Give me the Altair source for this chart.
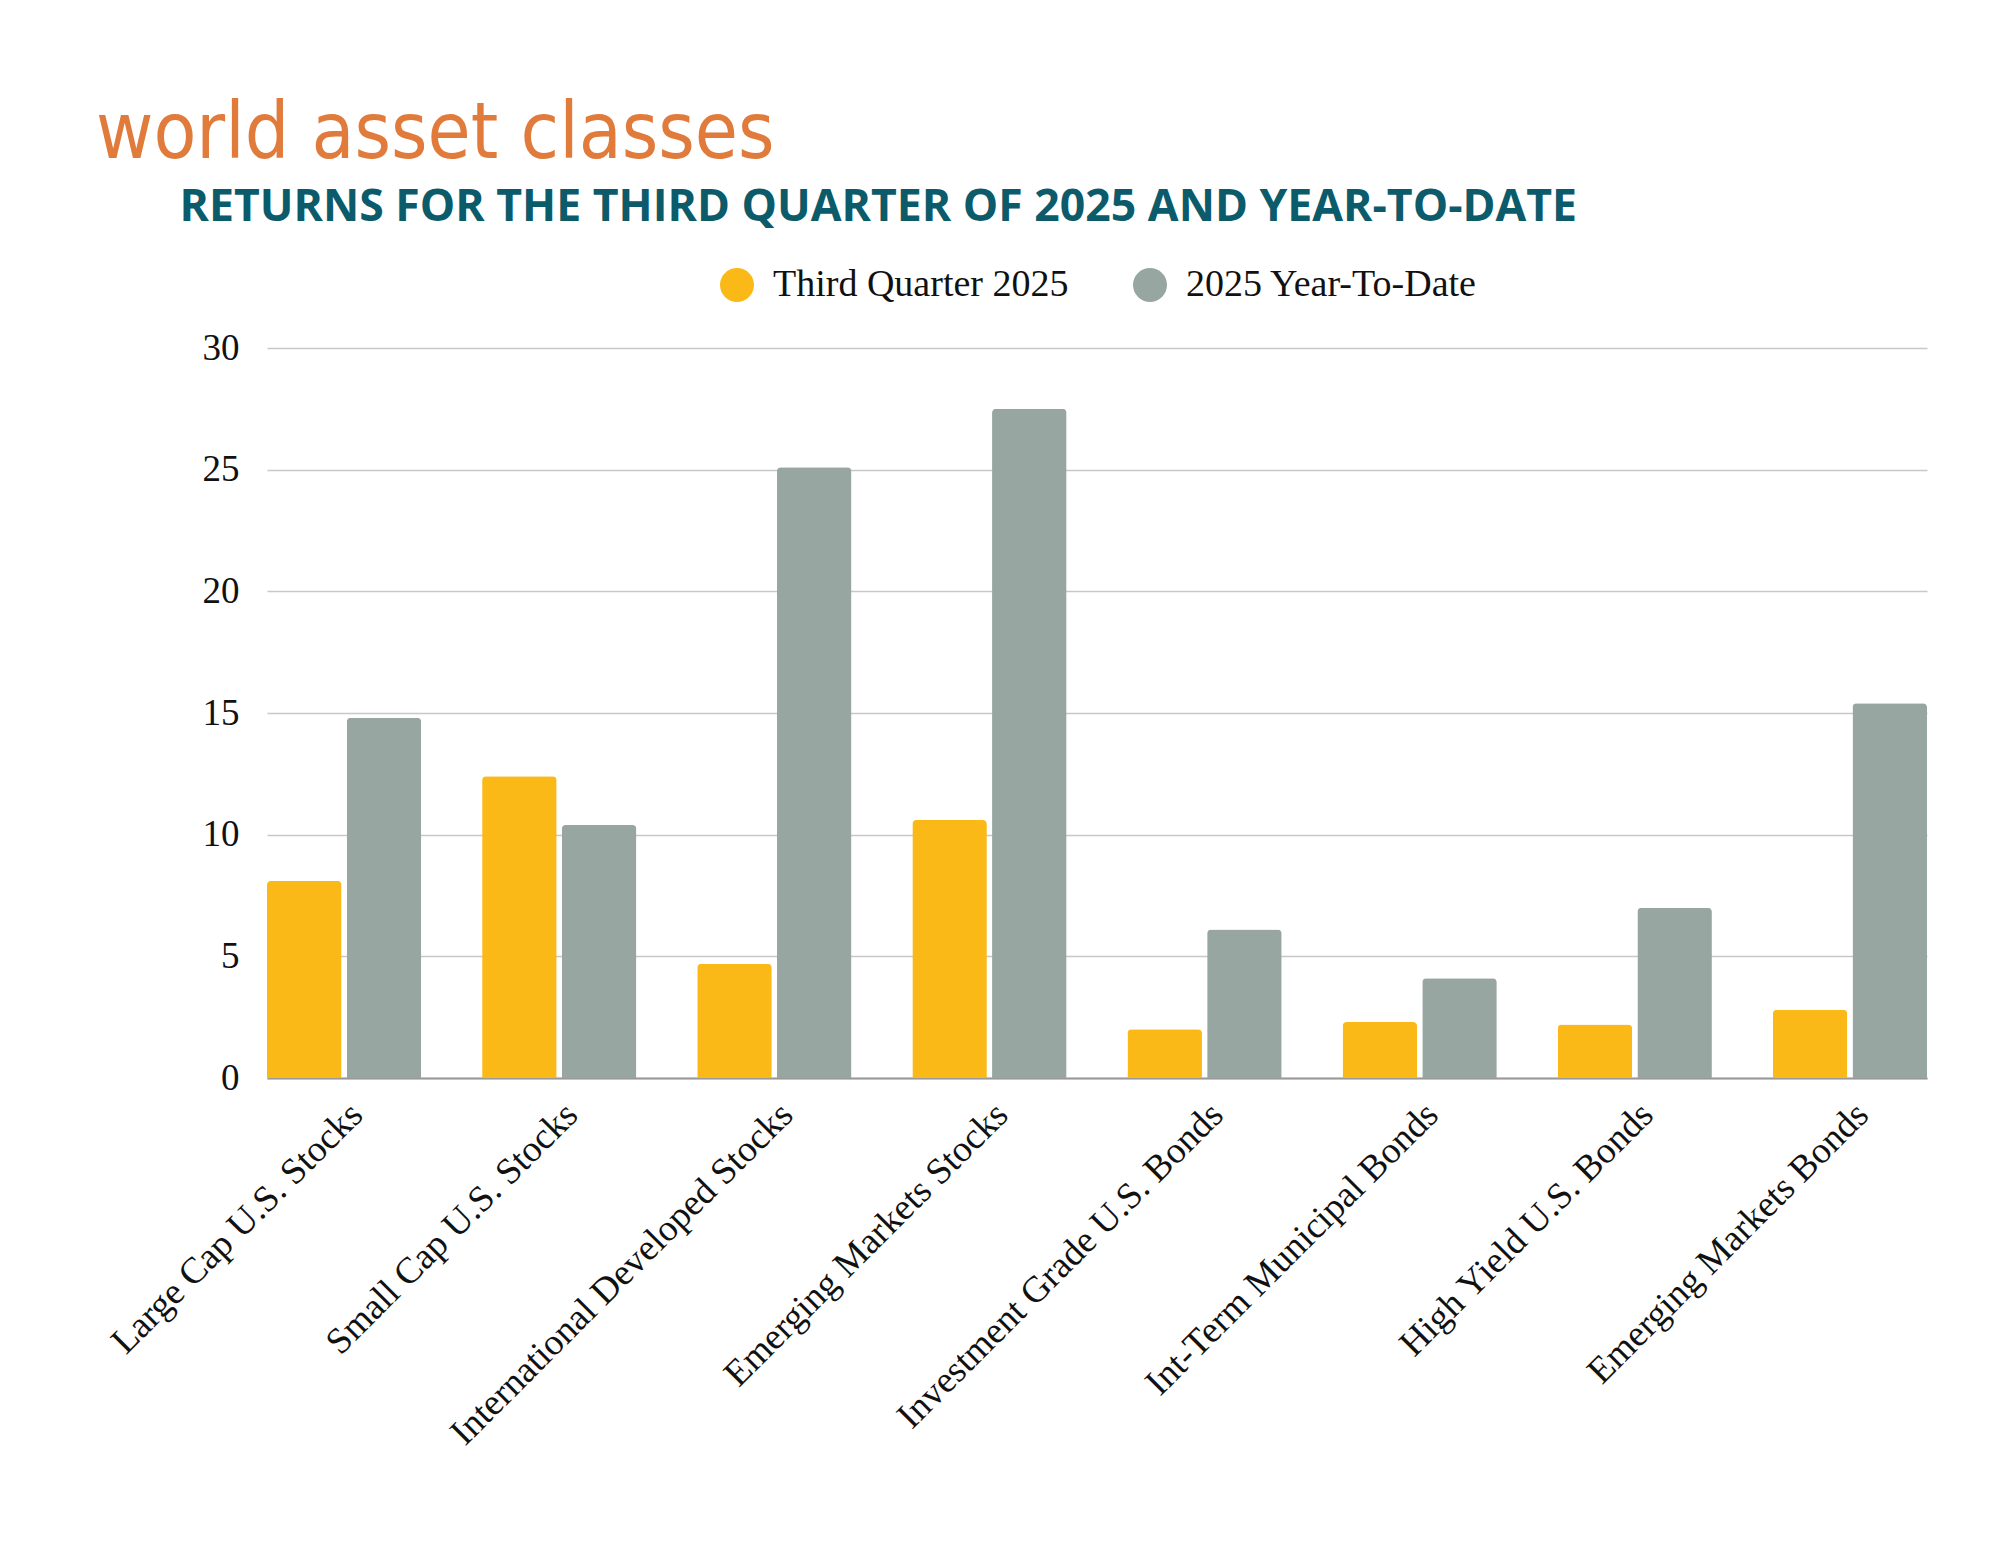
import altair as alt
import pandas as pd

categories = [
    "Large Cap U.S. Stocks",
    "Small Cap U.S. Stocks",
    "International Developed Stocks",
    "Emerging Markets Stocks",
    "Investment Grade U.S. Bonds",
    "Int-Term Municipal Bonds",
    "High Yield U.S. Bonds",
    "Emerging Markets Bonds",
]
series_names = ["Third Quarter 2025", "2025 Year-To-Date"]
q3_values = [8.1, 12.4, 4.7, 10.6, 2.0, 2.3, 2.2, 2.8]
ytd_values = [14.8, 10.4, 25.1, 27.5, 6.1, 4.1, 7.0, 15.4]
series_colors = ["#FBB917", "#97A6A1"]
y_ticks = [0, 5, 10, 15, 20, 25, 30]

rows = []
for c, q, y in zip(categories, q3_values, ytd_values):
    rows.append({"category": c, "series": series_names[0], "value": q})
    rows.append({"category": c, "series": series_names[1], "value": y})
df = pd.DataFrame(rows)

SERIF = "Liberation Serif"

chart = (
    alt.Chart(df)
    .mark_bar(cornerRadiusTopLeft=4, cornerRadiusTopRight=4)
    .encode(
        x=alt.X(
            "category:N",
            sort=categories,
            scale=alt.Scale(paddingInner=0.283, paddingOuter=0),
            axis=alt.Axis(
                title=None,
                labelAngle=-45,
                labelFont=SERIF,
                labelFontSize=37,
                labelColor="#111111",
                labelPadding=18,
                labelLimit=1000,
                ticks=False,
                domainColor="#999999",
                domainWidth=2,
            ),
        ),
        xOffset=alt.XOffset(
            "series:N",
            sort=series_names,
            scale=alt.Scale(paddingInner=0.065, paddingOuter=0),
        ),
        y=alt.Y(
            "value:Q",
            scale=alt.Scale(domain=[0, 30]),
            axis=alt.Axis(
                values=y_ticks,
                title="RETURNS FOR THE THIRD QUARTER OF 2025 AND YEAR-TO-DATE",
                titleX=-88,
                titleY=-128,
                titleAngle=0,
                titleAlign="left",
                titleBaseline="alphabetic",
                titleFont="Open Sans",
                titleFontWeight="bold",
                titleFontSize=44.6,
                titleColor="#0B5B6B",
                labelFont=SERIF,
                labelFontSize=37,
                labelColor="#111111",
                labelPadding=28,
                domain=False,
                ticks=False,
                gridColor="#c8c8c8",
                gridWidth=1.5,
            ),
        ),
        color=alt.Color(
            "series:N",
            sort=series_names,
            scale=alt.Scale(domain=series_names, range=series_colors),
            legend=alt.Legend(
                title=None,
                orient="none",
                legendX=451,
                legendY=-82,
                direction="horizontal",
                symbolType="circle",
                symbolSize=1156,
                symbolStrokeWidth=0,
                symbolOpacity=1,
                labelFont=SERIF,
                labelFontSize=38,
                labelColor="#111111",
                labelLimit=1000,
                labelOffset=17,
                columnPadding=62,
                padding=0,
            ),
        ),
    )
    .properties(
        width=1660,
        height=730,
        background="white",
        padding={"left": 259, "top": 340, "right": 65, "bottom": 459},
        autosize=alt.AutoSizeParams(type="none"),
        title=alt.TitleParams(
            text="world asset classes",
            anchor="start",
            frame="group",
            font="DejaVu Sans Condensed, Liberation Sans Narrow, Roboto",
            fontSize=78,
            fontWeight="normal",
            color="#E07B3C",
            dx=-171,
            dy=80,
            offset=28,
            baseline="alphabetic",
        ),
    )
    .configure_view(strokeWidth=0, stroke=None)
)

chart.save("out.html", embed_options={"renderer": "svg", "actions": False})
